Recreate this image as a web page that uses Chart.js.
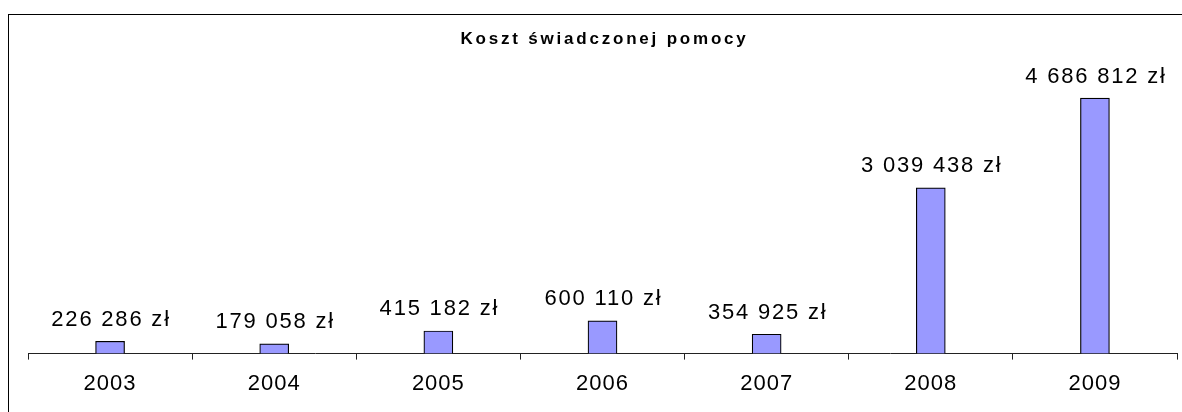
<!DOCTYPE html>
<html>
<head>
<meta charset="utf-8">
<script src="https://cdn.jsdelivr.net/npm/chart.js@4/dist/chart.umd.min.js"></script>
<style>
  html, body { margin: 0; padding: 0; background: #fff; }
  #wrap { width: 1182px; height: 412px; position: relative; }
</style>
</head>
<body>
<div id="wrap"><canvas id="wykres"></canvas></div>
<script>
// dane
const lata = ['2003', '2004', '2005', '2006', '2007', '2008', '2009'];
const koszty = [226286, 179058, 415182, 600110, 354925, 3039438, 4686812];
const tytul = 'Koszt świadczonej pomocy';

const kolorSlupka = '#9999FF';

const formatZl = (v) => String(v).replace(/\B(?=(\d{3})+(?!\d))/g, ' ') + ' zł';

// ramka (widać tylko górną i lewą krawędź)
const ramka = {
  id: 'ramka',
  beforeDraw(chart) {
    const ctx = chart.ctx;
    ctx.save();
    ctx.strokeStyle = '#000';
    ctx.lineWidth = 1;
    ctx.strokeRect(8.5, 14.5, 1200, 420);
    ctx.restore();
    ctx.letterSpacing = '1px';
  }
};

const tytulPlugin = {
  id: 'tytulPlugin',
  afterDraw(chart) {
    const ctx = chart.ctx;
    const area = chart.chartArea;
    ctx.save();
    ctx.letterSpacing = '2.8px';
    ctx.font = 'bold 17px "Liberation Sans", Arial, sans-serif';
    ctx.fillStyle = '#000';
    ctx.textAlign = 'center';
    ctx.textBaseline = 'alphabetic';
    ctx.fillText(tytul, (area.left + area.right) / 2 + 2, 43.5);
    ctx.restore();
  }
};

const etykiety = {
  id: 'etykiety',
  afterDatasetsDraw(chart) {
    const ctx = chart.ctx;
    const meta = chart.getDatasetMeta(0);
    ctx.save();
    ctx.letterSpacing = '1.8px';
    ctx.font = '22px "Liberation Sans", Arial, sans-serif';
    ctx.fillStyle = '#000';
    ctx.textAlign = 'center';
    ctx.textBaseline = 'alphabetic';
    meta.data.forEach((bar, i) => {
      ctx.fillText(formatZl(koszty[i]), bar.x + 1, bar.y - 15.5);
    });
    ctx.restore();
  }
};

new Chart(document.getElementById('wykres'), {
  type: 'bar',
  data: {
    labels: lata,
    datasets: [{
      data: koszty,
      backgroundColor: kolorSlupka,
      borderColor: '#000',
      borderWidth: 1.2,
      barThickness: 29
    }]
  },
  options: {
    responsive: true,
    maintainAspectRatio: false,
    animation: false,
    layout: { padding: { top: 81, left: 28, right: 5, bottom: 4 } },
    plugins: {
      legend: { display: false },
      title: { display: false },
      tooltip: { enabled: false }
    },
    scales: {
      x: {
        grid: { drawOnChartArea: false, drawTicks: true, tickLength: 6, color: '#222', offset: true },
        border: { color: '#222', width: 1 },
        ticks: { color: '#000', padding: 11, font: { family: '"Liberation Sans", Arial, sans-serif', size: 22 } }
      },
      y: {
        display: false,
        min: 0,
        max: 5000000
      }
    }
  },
  plugins: [ramka, tytulPlugin, etykiety]
});
</script>
</body>
</html>
